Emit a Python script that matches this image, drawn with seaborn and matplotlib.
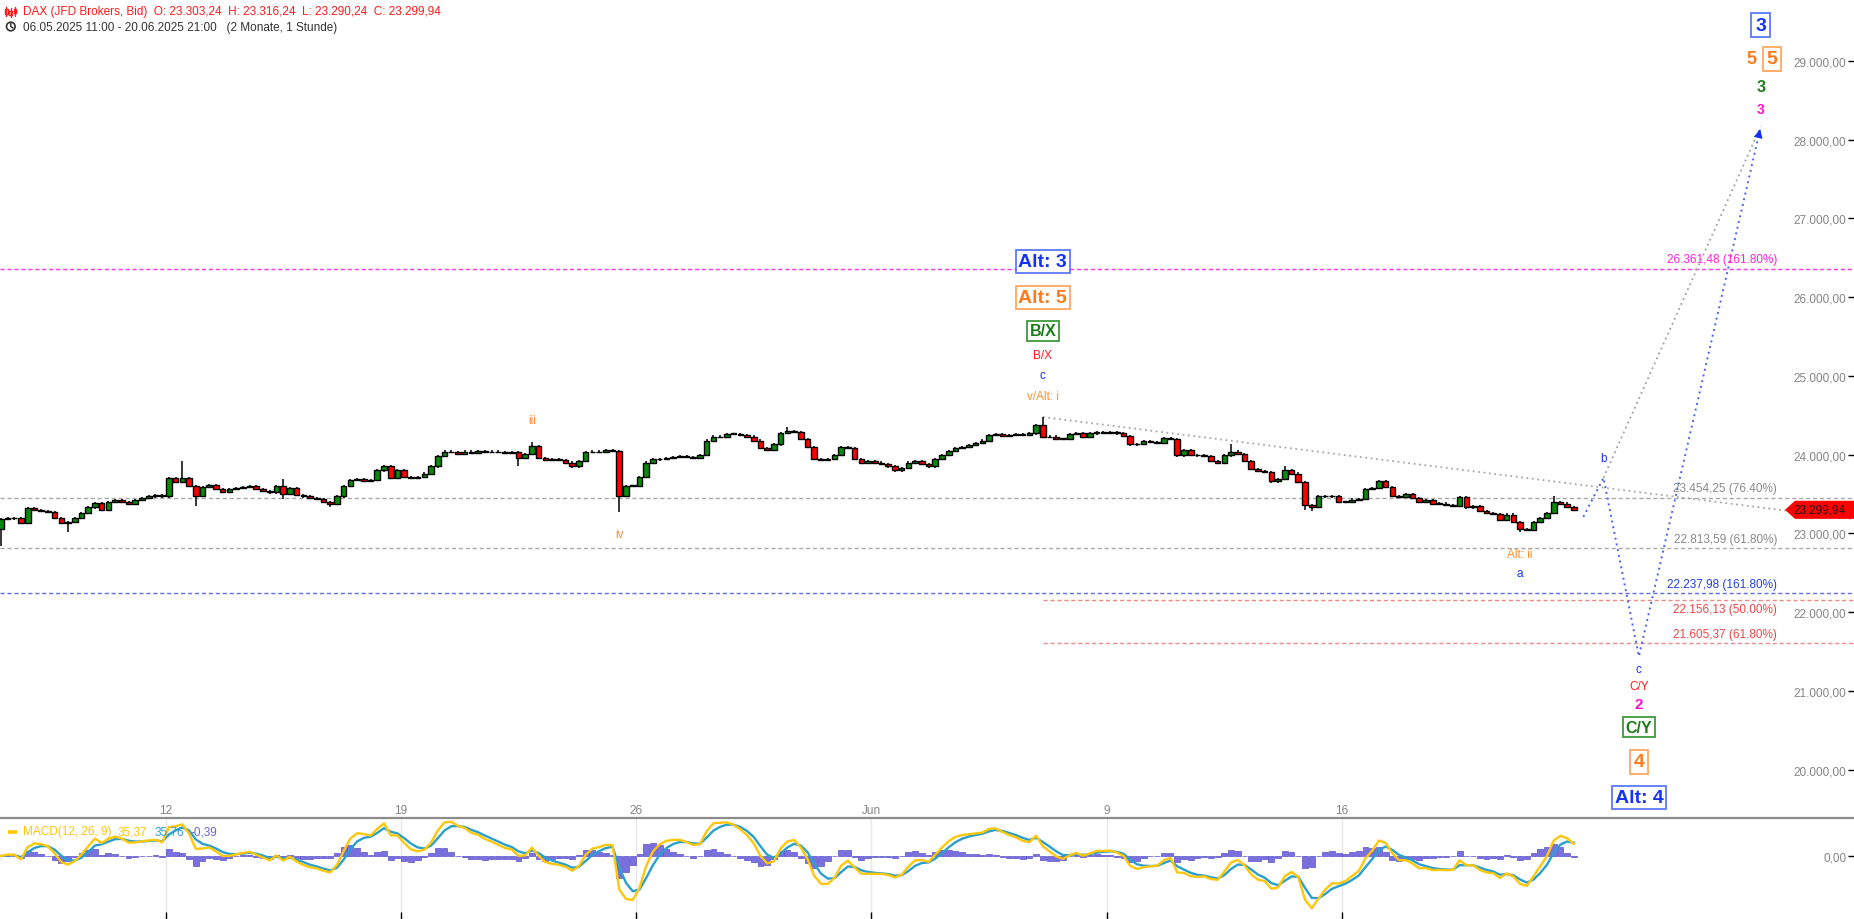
import numpy as np
import pandas as pd
import matplotlib
matplotlib.use("Agg")
import matplotlib.pyplot as plt
from matplotlib.patches import Polygon, Circle, Rectangle
from matplotlib.ticker import FuncFormatter
import seaborn as sns

# ---------------- DATA ----------------
# DAX (JFD, Bid) - 3-hour closes, 7 bars per trading day (01:00-22:00 session)
# the first day starts at 10:00, so it only has 4 bars
trading_days = ["06.05", "07.05", "08.05", "09.05", "12.05", "13.05", "14.05", "15.05", "16.05",
                "19.05", "20.05", "21.05", "22.05", "23.05", "26.05", "27.05", "28.05", "29.05",
                "30.05", "02.06", "03.06", "04.06", "05.06", "06.06", "09.06", "10.06", "11.06",
                "12.06", "13.06", "16.06", "17.06", "18.06", "19.06", "20.06"]
closes = [
    [23180, 23200, 23190, 23130],
    [23320, 23300, 23280, 23270, 23200, 23130, 23150],
    [23200, 23260, 23330, 23390, 23300, 23400, 23420],
    [23400, 23380, 23420, 23450, 23470, 23490, 23470],
    [23700, 23650, 23700, 23600, 23480, 23590, 23610],
    [23560, 23530, 23560, 23580, 23590, 23600, 23560],
    [23540, 23520, 23600, 23500, 23580, 23490, 23470],
    [23450, 23440, 23400, 23380, 23470, 23600, 23680],
    [23690, 23670, 23680, 23800, 23860, 23700, 23800],
    [23720, 23700, 23720, 23760, 23850, 23980, 24040],
    [24030, 24010, 24040, 24020, 24050, 24030, 24040],
    [24030, 24020, 24030, 23960, 24010, 24110, 23960],
    [23930, 23940, 23930, 23900, 23850, 23920, 24030],
    [24040, 24030, 24060, 24050, 23480, 23600, 23600],
    [23720, 23900, 23940, 23950, 23960, 23970, 23980],
    [23970, 23960, 24000, 24180, 24230, 24220, 24260],
    [24260, 24250, 24230, 24180, 24080, 24060, 24130],
    [24280, 24300, 24290, 24200, 24100, 23950, 23930],
    [23950, 24000, 24100, 24080, 23950, 23900, 23920],
    [23900, 23880, 23850, 23800, 23830, 23900, 23920],
    [23880, 23850, 23950, 24000, 24050, 24080, 24100],
    [24120, 24150, 24180, 24250, 24260, 24240, 24250],
    [24260, 24250, 24270, 24380, 24220, 24230, 24200],
    [24200, 24260, 24270, 24220, 24270, 24290, 24280],
    [24290, 24270, 24240, 24130, 24140, 24170, 24160],
    [24150, 24210, 24200, 23990, 24060, 24000, 23990],
    [23980, 23920, 23900, 23990, 24040, 24010, 23920],
    [23820, 23790, 23780, 23660, 23690, 23800, 23760],
    [23650, 23360, 23340, 23470, 23480, 23470, 23400],
    [23400, 23430, 23440, 23560, 23580, 23670, 23590],
    [23480, 23460, 23500, 23450, 23400, 23420, 23380],
    [23380, 23360, 23350, 23460, 23330, 23350, 23280],
    [23260, 23250, 23170, 23240, 23150, 23050, 23040],
    [23150, 23200, 23260, 23400, 23380, 23340, 23299.94],
]
first_open = 23060
# long wicks: (day, slot) -> price
wick_highs = {(4, 2): 23923, (6, 3): 23690, (11, 5): 24160, (17, 1): 24350,
              (22, 4): 24478, (26, 4): 24130, (27, 5): 23850, (33, 3): 23480}
wick_lows = {(0, 3): 22844, (1, 6): 23020, (4, 4): 23350, (6, 3): 23440, (7, 3): 23330,
             (11, 3): 23860, (13, 4): 23270, (28, 1): 23300, (28, 2): 23290, (32, 5): 23020}

tick_days = ["12.05", "19.05", "26.05", "02.06", "09.06", "16.06"]
tick_names = ["12", "19", "26", "Jun", "9", "16"]

ohlc_header = [23303.24, 23316.24, 23290.24, 23299.94]

# fibonacci levels
level_values = [26361.48, 23454.25, 22813.59, 22237.98, 22156.13, 21605.37]
level_pcts = ["161.80%", "76.40%", "61.80%", "161.80%", "50.00%", "61.80%"]
level_from_peak = [False, False, False, False, True, True]

# projected path (trading-hour index, price): start, b, c, target
proj_hours = [716.7, 725.7, 741.5, 795.9]
proj_prices = [23210, 23706, 21438, 28168]
# falling trendline from the top
trend_hours = [475.5, 837.6]
trend_prices = [24478, 23180]

macd_legend = ["35,37", "35,76", "-0,39"]

# ---------------- PREP ----------------
rows = []
for d, day in enumerate(closes):
    first_slot = 7 - len(day)
    for j, c in enumerate(day):
        k = first_slot + j
        rows.append((d, k, d * 21 + 3 * k + 1.5, c))
df = pd.DataFrame(rows, columns=["day", "slot", "x", "close"])
df["open"] = df["close"].shift(1).fillna(first_open)
wick = 14  # display wick length
df["high"] = df[["open", "close"]].max(axis=1) + wick
df["low"] = df[["open", "close"]].min(axis=1) - wick
for (d, k), v in wick_highs.items():
    df.loc[(df.day == d) & (df.slot == k), "high"] = v
for (d, k), v in wick_lows.items():
    df.loc[(df.day == d) & (df.slot == k), "low"] = v


def ema_hourly(s, span):
    # hourly EMA applied to 3-hour steps
    a = 2 / (span + 1)
    return s.ewm(alpha=1 - (1 - a) ** 3, adjust=False).mean()


macd = ema_hourly(df["close"], 12) - ema_hourly(df["close"], 26)
signal = ema_hourly(macd, 9)
hist = macd - signal


def de(v):
    return f"{v:,.2f}".replace(",", "X").replace(".", ",").replace("X", ".")


# ---------------- PLOT ----------------
sns.set_theme(style="white")
plt.rcParams["font.family"] = ["Liberation Sans", "DejaVu Sans"]

W, H = 1854, 920
fig = plt.figure(figsize=(W / 100, H / 100), dpi=100)
ax = fig.add_axes([0, 101 / H, 1, 819 / H])
ax2 = fig.add_axes([0, 0, 1, 101 / H])

xmin, xmax = 10.13, 837.5
ax.set_xlim(xmin, xmax)
ax.set_ylim(19386, 29787)
ax2.set_xlim(xmin, xmax)
ax2.set_ylim(-157, 95)

# candles
up = df["close"] >= df["open"]
bottom = df[["open", "close"]].min(axis=1)
height = (df["close"] - df["open"]).abs().clip(lower=10)
ax.vlines(df["x"], df["low"], df["high"], color="black", lw=1.1, zorder=3)
ax.bar(df["x"], height, bottom=bottom, width=2.5,
       color=np.where(up, "#0a8a0a", "#ff0000"), edgecolor="black", linewidth=1.0, zorder=4)

# fibonacci levels
peak_x = trend_hours[0]
level_colors = ["#ff33ee", "#aaaaaa", "#aaaaaa", "#6070e8", "#f08a8a", "#f08a8a"]
label_colors = ["#ff22dd", "#8a8a8a", "#8a8a8a", "#2040e8", "#ee4444", "#ee4444"]
for v, pct, fp, lc, tc in zip(level_values, level_pcts, level_from_peak, level_colors, label_colors):
    ax.hlines(v, peak_x if fp else xmin, xmax, colors=lc, linestyles=(0, (3, 2)), lw=1.0, zorder=2)
    # the 50% label sits under its line so it does not cover the 161.8% label
    below = pct == "50.00%"
    ax.annotate(f"{de(v)} ({pct})", xy=(0.9585, v), xycoords=("axes fraction", "data"),
                xytext=(0, -2 if below else 2.5), textcoords="offset points", ha="right",
                va="top" if below else "bottom", fontsize=8.5, color=tc, zorder=5)

# trendline and projections
ax.plot(trend_hours, trend_prices, color="#a8a8a8", ls=(0, (1, 2)), lw=1.3, zorder=2)
ax.plot([proj_hours[1], proj_hours[3]], [proj_prices[1], proj_prices[3]],
        color="#a0a0a0", ls=(0, (1, 2)), lw=1.3, zorder=2)
ax.plot(proj_hours, proj_prices, color="#4a62f0", ls=(0, (1, 2)), lw=1.4, zorder=2)
tx = proj_hours[2] + 0.97 * (proj_hours[3] - proj_hours[2])
ty = proj_prices[2] + 0.97 * (proj_prices[3] - proj_prices[2])
ax.annotate("", xy=(proj_hours[3], proj_prices[3]), xytext=(tx, ty),
            arrowprops=dict(arrowstyle="-|>", color="#1030f0", mutation_scale=16, lw=0), zorder=6)

BLUE, ORANGE, GREEN, RED, MAG = "#1434f5", "#ff7a1a", "#1a7d1a", "#ff1a1a", "#ff10d0"
ORANGE_L = "#ff8f35"


def wave(text, x, y, dy, color, size=8.5, bold=False, box=None, dx=0, pad=0.15):
    kw = {}
    if box:
        kw["bbox"] = dict(boxstyle=f"square,pad={pad}", fc="white", ec=box, lw=1.3)
    ax.annotate(text, xy=(x, y), xytext=(dx, dy), textcoords="offset points",
                ha="center", va="center", color=color, fontsize=size,
                fontweight="bold" if bold else "normal", zorder=7, **kw)


# labels at the June top
pk = (trend_hours[0], trend_prices[0])
wave("v/Alt: i", *pk, 15, ORANGE_L)
wave("c", *pk, 30, BLUE)
wave("B/X", *pk, 45, RED)
wave("B/X", *pk, 62, GREEN, 11.5, True, "#3c9a3c")
wave("Alt: 5", *pk, 86, ORANGE, 14, True, "#ffa860")
wave("Alt: 3", *pk, 112, BLUE, 14, True, "#5a78ff")

# labels at the projected low
cp = (proj_hours[2], proj_prices[2])
wave("c", *cp, -9, BLUE)
wave("C/Y", *cp, -21, RED)
wave("2", *cp, -34, MAG, 11, True)
wave("C/Y", *cp, -51, GREEN, 11.5, True, "#3c9a3c")
wave("4", *cp, -76, ORANGE, 14, True, "#ffa860", pad=0.2)
wave("Alt: 4", *cp, -101.5, BLUE, 14, True, "#5a78ff")

# labels at the target
tp = (proj_hours[3], proj_prices[3])
wave("3", *tp, 12.6, MAG, 10, True)
wave("3", *tp, 29, GREEN, 11.5, True)
wave("5", *tp, 48.6, ORANGE, 13, True, dx=-7)
wave("5", *tp, 48.6, ORANGE, 14, True, "#ffa860", dx=8.2, pad=0.2)
wave("3", *tp, 73, BLUE, 14, True, "#5a78ff", pad=0.2)

# minor wave labels
wave("iii", df.loc[(df.day == 11) & (df.slot == 5), "x"].item(), wick_highs[(11, 5)], 16, ORANGE_L)
wave("iv", df.loc[(df.day == 13) & (df.slot == 4), "x"].item(), wick_lows[(13, 4)], -16, ORANGE_L)
lx = df.loc[(df.day == 32) & (df.slot == 5), "x"].item()
wave("Alt: ii", lx, wick_lows[(32, 5)], -15.6, ORANGE_L)
wave("a", lx, wick_lows[(32, 5)], -29.3, BLUE)
wave("b", proj_hours[1], proj_prices[1], 14.4, BLUE)

# current price tag
last = df["close"].iloc[-1]
hh = 115
tag = Polygon([(1785 / W, last), (1795 / W, last + hh), (1, last + hh), (1, last - hh), (1795 / W, last - hh)],
              closed=True, fc="#ff0000", ec="none", transform=ax.get_yaxis_transform(), zorder=8)
ax.add_patch(tag)
ax.text(1846 / W, last, de(last), transform=ax.get_yaxis_transform(), ha="right", va="center",
        fontsize=8.5, color="#1a1a1a", zorder=9)

# price axis ticks
fmt = FuncFormatter(lambda v, p: de(v))
ax.set_yticks(np.arange(20000, 29001, 1000))
ax.yaxis.set_major_formatter(fmt)
ax.tick_params(axis="y", left=False, right=True, labelleft=False, labelright=True,
               direction="in", length=4, width=1, color="black", pad=-5.5,
               labelsize=8.5, labelcolor="#858585")
tick_x = [trading_days.index(d) * 21 for d in tick_days]
ax.set_xticks(tick_x)
ax.set_xticklabels(tick_names)
ax.tick_params(axis="x", bottom=True, length=0, direction="in", pad=-10,
               labelsize=8.5, labelcolor="#858585")
for s in ax.spines.values():
    s.set_visible(False)

# MACD panel
ax2.bar(df["x"], hist, width=2.6, color="#7a70e0", edgecolor="#5a50c8", linewidth=0.5, zorder=2)
sns.lineplot(x=df["x"], y=signal, ax=ax2, color="#2ba0cc", lw=1.7, zorder=3)
sns.lineplot(x=df["x"], y=macd, ax=ax2, color="#ffc60a", lw=1.7, zorder=4)
ax2.set_xlabel("")
ax2.set_ylabel("")
ax2.set_xticks(tick_x)
ax2.set_xticklabels([])
ax2.grid(axis="x", color="#e8e8e8", lw=1)
ax2.set_axisbelow(True)
ax2.tick_params(axis="x", bottom=True, direction="in", length=5, width=1, color="black")
ax2.set_yticks([0])
ax2.yaxis.set_major_formatter(FuncFormatter(lambda v, p: "0,00"))
ax2.tick_params(axis="y", left=False, right=True, labelleft=False, labelright=True,
                direction="in", length=4, width=1, color="black", pad=-5.5,
                labelsize=8.5, labelcolor="#858585")
for name, s in ax2.spines.items():
    s.set_visible(name == "top")
ax2.spines["top"].set_color("#8c8c8c")
ax2.spines["top"].set_linewidth(1.6)

for t in ax.yaxis.get_major_ticks() + ax2.yaxis.get_major_ticks():
    t.label2.set_horizontalalignment("right")

# overlay: header and MACD legend (pixel coordinates)
ov = fig.add_axes([0, 0, 1, 1])
ov.set_xlim(0, W)
ov.set_ylim(H, 0)
ov.axis("off")
for cx, y0, y1, b0, b1 in [(6.5, 8, 17, 10, 15), (10.8, 9, 18, 12, 16), (15, 8, 17, 10, 14)]:
    ov.plot([cx, cx], [y0, y1], color="#ff1a1a", lw=1)
    ov.add_patch(Rectangle((cx - 1.3, b0), 2.6, b1 - b0, fc="none", ec="#ff1a1a", lw=1))
o, h, l, c = ohlc_header
ov.text(23, 12.5, f"DAX (JFD Brokers, Bid)  O: {de(o)}  H: {de(h)}  L: {de(l)}  C: {de(c)}",
        color="#ff1a1a", fontsize=8.5, va="center")
ov.add_patch(Circle((10.8, 27.5), 4.3, fill=False, ec="#333333", lw=1.2))
ov.plot([10.8, 10.8, 13.0], [24.6, 27.5, 29.0], color="#333333", lw=1.1)
ov.text(23, 27.5, f"{trading_days[0]}.2025 11:00 - {trading_days[-1]}.2025 21:00   (2 Monate, 1 Stunde)",
        color="#333333", fontsize=8.5, va="center")

ov.plot([8, 17], [832.5, 832.5], color="#ffc60a", lw=2.6, solid_capstyle="butt")
ov.text(23, 832.5, "MACD(12, 26, 9)", color="#ffc60a", fontsize=8.5, va="center")
ov.text(118, 832.5, macd_legend[0], color="#ffc60a", fontsize=8.5, va="center")
ov.text(155, 832.5, macd_legend[1], color="#2ba0cc", fontsize=8.5, va="center")
ov.text(191, 832.5, macd_legend[2], color="#6a5fd0", fontsize=8.5, va="center")

fig.savefig("out.png", dpi=100)
